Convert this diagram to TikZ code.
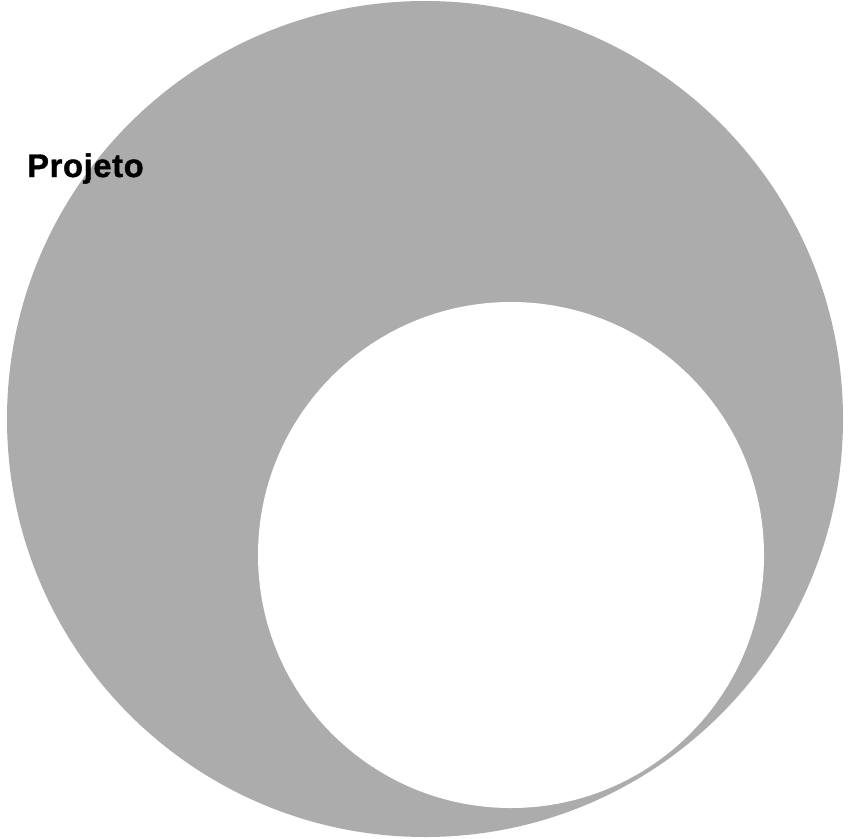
\documentclass[tikz,border=0pt]{standalone}
\usepackage{fontspec}
\setmainfont{Liberation Sans}
\definecolor{ProjetoGrey}{RGB}{172,172,172}

\begin{document}
\begin{tikzpicture}[x=0.75pt,y=-0.75pt]
                % Frame
                \useasboundingbox (0,0) rectangle (852,838);
                
                % Outer disc
                \fill[ProjetoGrey] (425,419) circle (313.5pt);
                
                % Inner disc
                \fill[white] (511,555) circle (189.75pt);
                
                % Label
                \node[font=\fontsize{24.5pt}{28pt}\selectfont\bfseries\addfontfeatures{FakeBold=1.2,LetterSpace=2}, anchor=base west, inner sep=0pt] (projeto) at (27,177) {Projeto};
            \end{tikzpicture}
\end{document}
